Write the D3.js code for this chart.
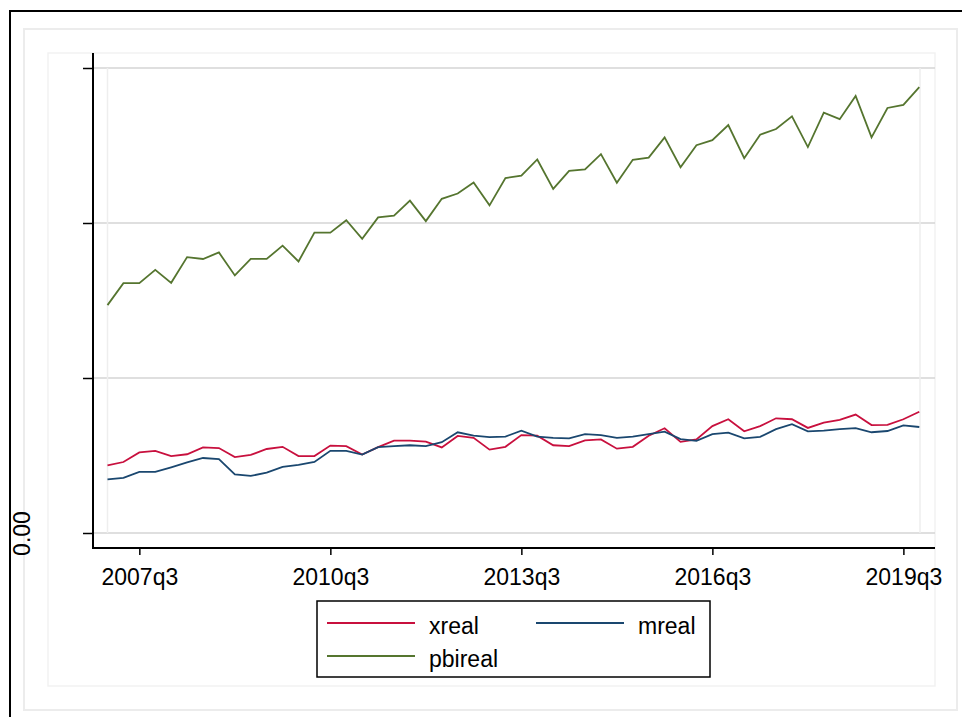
<!DOCTYPE html>
<html>
<head>
<meta charset="utf-8">
<title>xreal mreal pbireal</title>
<script src="https://cdn.jsdelivr.net/npm/d3@7"></script>
<style>
    body { margin: 0; background: #fff; }
    svg { display: block; }
    text { font-family: "Liberation Sans", Arial, sans-serif; fill: #000; }
</style>
</head>
<body>
<div id="graph"></div>
<script>
    // quarters 2007q1 .. 2019q4
    var startYear = 2007, nQuarters = 52;
    var tickQuarters = ["2007q3", "2010q3", "2013q3", "2016q3", "2019q3"];
    var yTicks = [0, 50, 100, 150];

    var xreal = [21.8, 22.9, 26.0, 26.5, 24.8, 25.4, 27.6, 27.4, 24.5, 25.2, 27.1, 27.8, 24.8,
        24.8, 28.2, 28.0, 25.3, 27.7, 29.8, 29.8, 29.5, 27.6, 31.3, 30.7, 26.9, 27.8,
        31.6, 31.4, 28.3, 28.0, 29.9, 30.2, 27.2, 27.8, 31.4, 33.8, 29.4, 30.2, 34.5,
        36.7, 32.8, 34.5, 37.0, 36.7, 33.9, 35.6, 36.5, 38.2, 34.8, 34.9, 36.7, 39.1];
    var mreal = [17.3, 17.8, 19.7, 19.7, 21.2, 22.8, 24.2, 23.8, 18.9, 18.4, 19.5, 21.3, 22.0,
        22.9, 26.5, 26.5, 25.3, 27.7, 28.0, 28.3, 28.0, 29.3, 32.5, 31.4, 30.9, 31.1,
        33.0, 31.1, 30.7, 30.5, 31.9, 31.6, 30.7, 31.1, 31.9, 32.7, 30.3, 29.7, 31.9,
        32.4, 30.5, 31.0, 33.5, 35.1, 32.8, 33.0, 33.5, 33.8, 32.5, 32.9, 34.7, 34.2];
    var pbireal = [73.5, 80.6, 80.6, 84.9, 80.7, 89.0, 88.4, 90.5, 83.1, 88.4, 88.4, 92.7, 87.6,
        96.9, 96.9, 100.9, 94.9, 101.8, 102.4, 107.2, 100.6, 107.8, 109.5, 113.1, 105.7, 114.5,
        115.3, 120.5, 111.0, 116.8, 117.3, 122.2, 113.0, 120.4, 121.1, 127.6, 118.0, 125.1, 126.7,
        131.6, 120.9, 128.5, 130.3, 134.4, 124.5, 135.6, 133.5, 141.0, 127.6, 137.1, 138.1, 143.8];

    var series = [
        { name: "xreal", values: xreal, color: "#c8103e" },
        { name: "mreal", values: mreal, color: "#1a476f" },
        { name: "pbireal", values: pbireal, color: "#55752f" }
    ];

    var quarters = [];
    for (var i = 0; i < nQuarters; i++) {
        quarters.push((startYear + Math.floor(i / 4)) + "q" + (i % 4 + 1));
    }

    var width = 962, height = 717;
    var svg = d3.select("#graph").append("svg")
        .attr("width", width)
        .attr("height", height);

    // frames
    svg.append("rect").attr("x", 10).attr("y", 11).attr("width", 1000).attr("height", 1000)
        .attr("fill", "none").attr("stroke", "#000").attr("stroke-width", 2);
    svg.append("rect").attr("x", 24).attr("y", 29).attr("width", 933).attr("height", 681)
        .attr("fill", "none").attr("stroke", "#ececec").attr("stroke-width", 2);
    svg.append("rect").attr("x", 48).attr("y", 53).attr("width", 887).attr("height", 633)
        .attr("fill", "none").attr("stroke", "#f2f2f2").attr("stroke-width", 1.5);

    var x = d3.scaleLinear().domain([0, nQuarters - 1]).range([107.5, 919.3]);
    var y = d3.scaleLinear().domain([0, 150]).range([533, 68]);

    // gridlines
    svg.append("g").selectAll("line").data(yTicks).enter().append("line")
        .attr("x1", 93).attr("x2", 935)
        .attr("y1", function(d) { return y(d); })
        .attr("y2", function(d) { return y(d); })
        .attr("stroke", "#d4d4d4").attr("stroke-width", 1.5);

    // plot region side lines
    svg.append("g").selectAll("line").data([107.5, 920]).enter().append("line")
        .attr("x1", function(d) { return d; }).attr("x2", function(d) { return d; })
        .attr("y1", 68).attr("y2", 533)
        .attr("stroke", "#eeeeee").attr("stroke-width", 1.5);

    // axes
    var xAxis = d3.axisBottom(x)
        .tickValues(tickQuarters.map(function(q) { return quarters.indexOf(q); }))
        .tickFormat(function(d) { return quarters[d]; })
        .tickSize(7).tickSizeOuter(0);
    var gx = svg.append("g").attr("transform", "translate(0,548)").call(xAxis);
    gx.select(".domain").attr("d", "M93,0H935").attr("stroke", "#000").attr("stroke-width", 2);
    gx.selectAll(".tick line").attr("stroke", "#000").attr("stroke-width", 1.5);
    gx.selectAll(".tick text").attr("font-size", 23).attr("dy", "0.71em").attr("y", 21)
        .style("font-family", "'Liberation Sans', Arial, sans-serif").attr("fill", "#000");

    var yAxis = d3.axisLeft(y)
        .tickValues(yTicks)
        .tickFormat(function(d) { return d === 0 ? "0.00" : ""; })
        .tickSize(10).tickSizeOuter(0);
    var gy = svg.append("g").attr("transform", "translate(93,0)").call(yAxis);
    gy.select(".domain").attr("d", "M0,53V549").attr("stroke", "#000").attr("stroke-width", 2);
    gy.selectAll(".tick line").attr("stroke", "#000").attr("stroke-width", 1.5);
    gy.selectAll(".tick text")
        .attr("font-size", 23)
        .attr("x", null).attr("dy", null)
        .attr("text-anchor", "middle")
        .attr("transform", "translate(-63.5,0) rotate(-90)")
        .style("font-family", "'Liberation Sans', Arial, sans-serif").attr("fill", "#000");

    // lines
    var line = d3.line()
        .x(function(d, i) { return x(i); })
        .y(function(d) { return y(d); });

    svg.append("g").selectAll("path").data(series).enter().append("path")
        .attr("d", function(s) { return line(s.values); })
        .attr("fill", "none")
        .attr("stroke", function(s) { return s.color; })
        .attr("stroke-width", 1.8)
        .attr("stroke-linejoin", "miter");

    // legend
    var legend = svg.append("g");
    legend.append("rect").attr("x", 317).attr("y", 601).attr("width", 393).attr("height", 76)
        .attr("fill", "#fff").attr("stroke", "#000").attr("stroke-width", 1.5);
    var legendPos = [
        { lx: 327, tx: 429, y: 623 },
        { lx: 536, tx: 638, y: 623 },
        { lx: 327, tx: 429, y: 656 }
    ];
    var item = legend.selectAll("g.item").data(series).enter().append("g").classed("item", true);
    item.append("line")
        .attr("x1", function(s, i) { return legendPos[i].lx; })
        .attr("x2", function(s, i) { return legendPos[i].lx + 88; })
        .attr("y1", function(s, i) { return legendPos[i].y; })
        .attr("y2", function(s, i) { return legendPos[i].y; })
        .attr("stroke", function(s) { return s.color; })
        .attr("stroke-width", 1.8);
    item.append("text")
        .attr("x", function(s, i) { return legendPos[i].tx; })
        .attr("y", function(s, i) { return legendPos[i].y + 10.5; })
        .attr("font-size", 23)
        .text(function(s) { return s.name; });
</script>
</body>
</html>
